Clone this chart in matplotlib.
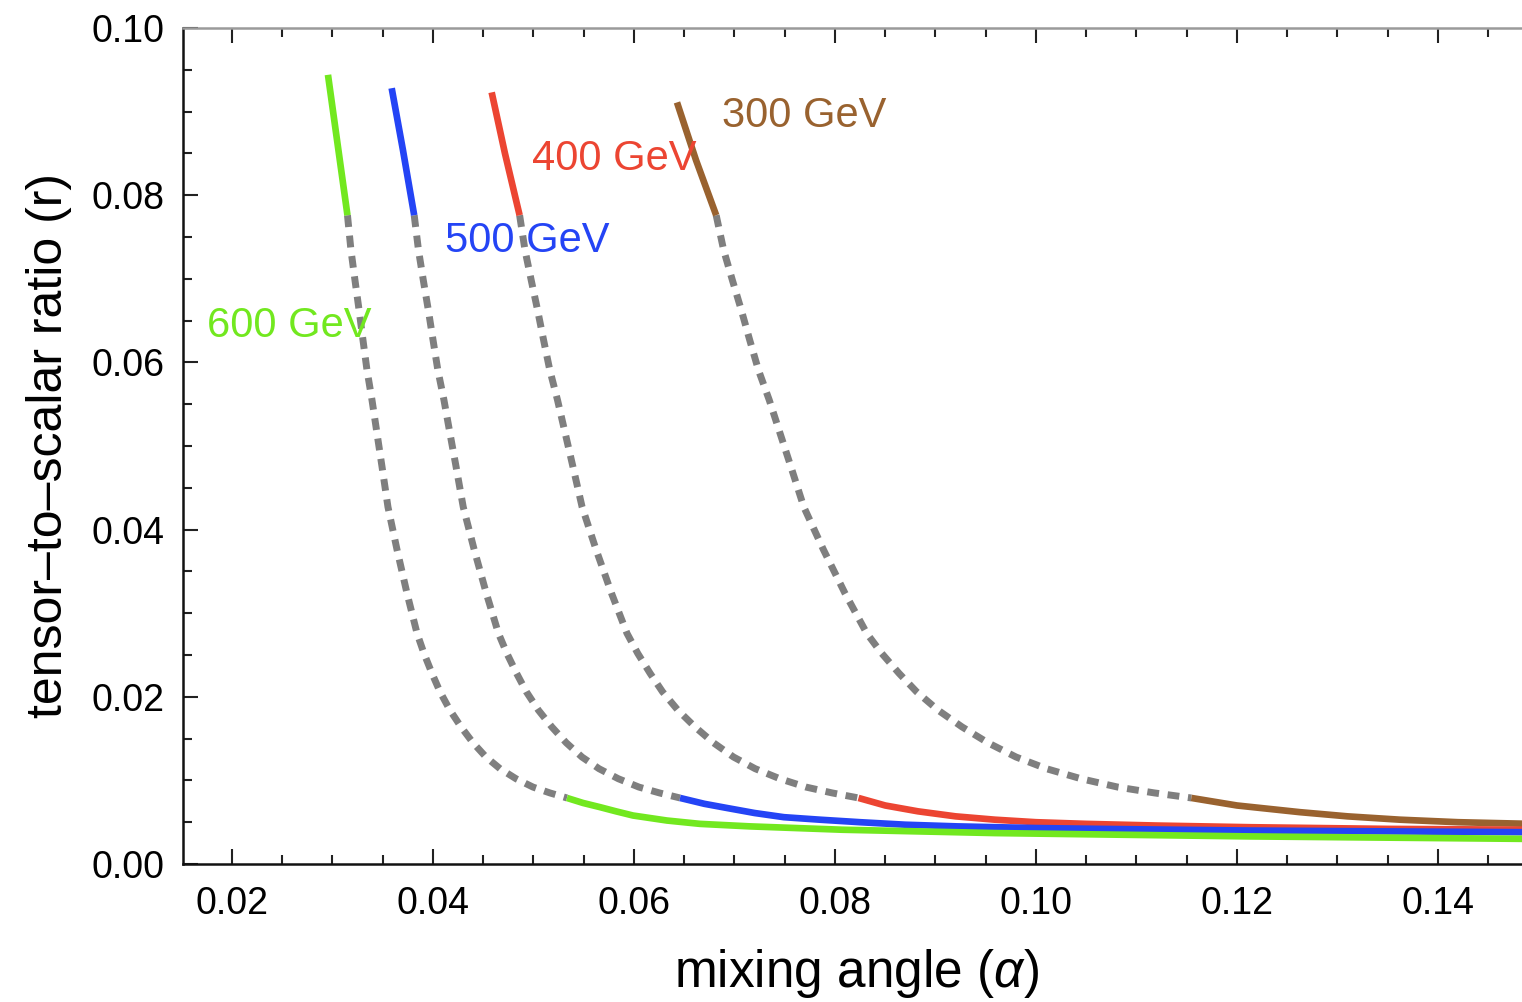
import matplotlib.pyplot as plt
from matplotlib.ticker import FixedLocator

plt.rcParams['font.family'] = ['Liberation Sans', 'DejaVu Sans']
plt.rcParams['mathtext.fontset'] = 'custom'
plt.rcParams['mathtext.rm'] = 'Liberation Sans'
plt.rcParams['mathtext.it'] = 'Liberation Sans:italic'

# --- data (mixing angle alpha, tensor-to-scalar ratio r)
masses = ["600 GeV", "500 GeV", "400 GeV", "300 GeV"]
colors = ["#72e81f", "#2444f5", "#ec4532", "#99622f"]

# r values along the dotted (excluded) stretch, shared by all four curves
r_mid = [0.0776, 0.0734, 0.0698, 0.0663, 0.0627, 0.0591, 0.0555, 0.0515, 0.0475,
         0.0427, 0.0376, 0.0324, 0.0276, 0.0252, 0.0228, 0.0206, 0.0184, 0.0164,
         0.0145, 0.0128, 0.0114, 0.0102, 0.0092, 0.0085, 0.0079]

# 600 GeV
a600_up = [0.02955, 0.03045, 0.03149]
r600_up = [0.0944, 0.0866, 0.0776]
a600_mid = [0.03149, 0.03184, 0.03224, 0.03264, 0.03303, 0.03343, 0.03393, 0.03443,
            0.03493, 0.03552, 0.03642, 0.03741, 0.03841, 0.03910, 0.03990, 0.04070,
            0.04169, 0.04279, 0.04398, 0.04527, 0.04667, 0.04826, 0.04995, 0.05164,
            0.05333]
a600_low = [0.05333, 0.05493, 0.05662, 0.05821, 0.05990, 0.06159, 0.06328, 0.06657,
            0.07154, 0.08070, 0.09592, 0.12129, 0.14916]
r600_low = [0.0079, 0.0073, 0.0068, 0.0063, 0.0058, 0.0055, 0.0052, 0.0048,
            0.0045, 0.0041, 0.0037, 0.0033, 0.0030]

# 500 GeV
a500_up = [0.03589, 0.03701, 0.03813]
r500_up = [0.0928, 0.0854, 0.0776]
a500_mid = [0.03813, 0.03856, 0.03904, 0.03953, 0.04000, 0.04048, 0.04109, 0.04169,
            0.04230, 0.04301, 0.04410, 0.04530, 0.04651, 0.04735, 0.04832, 0.04929,
            0.05049, 0.05182, 0.05326, 0.05482, 0.05652, 0.05844, 0.06049, 0.06254,
            0.06458]
a500_low = [0.06458, 0.06700, 0.06925, 0.07200, 0.07492, 0.07850, 0.08249, 0.08700,
            0.09214, 0.10000, 0.10637, 0.12129, 0.13500, 0.14916]
r500_low = [0.0079, 0.0072, 0.0067, 0.0061, 0.0056, 0.0053, 0.0050, 0.0047,
            0.0045, 0.0043, 0.0042, 0.0040, 0.0039, 0.0038]

# 400 GeV
a400_up = [0.04584, 0.04716, 0.04862]
r400_up = [0.0923, 0.0850, 0.0776]
a400_mid = [0.04862, 0.04916, 0.04978, 0.05040, 0.05100, 0.05162, 0.05239, 0.05316,
            0.05393, 0.05484, 0.05623, 0.05776, 0.05930, 0.06037, 0.06161, 0.06284,
            0.06437, 0.06607, 0.06791, 0.06990, 0.07206, 0.07451, 0.07712, 0.07973,
            0.08234]
a400_low = [0.08234, 0.08500, 0.08826, 0.09200, 0.09592, 0.10000, 0.10500, 0.11200,
            0.12129, 0.13500, 0.14916]
r400_low = [0.0079, 0.0070, 0.0063, 0.0057, 0.0053, 0.0050, 0.0048, 0.0046,
            0.0044, 0.0042, 0.0041]

# 300 GeV
a300_up = [0.06428, 0.06617, 0.06818]
r300_up = [0.0911, 0.0842, 0.0776]
a300_mid = [0.06818, 0.06893, 0.06980, 0.07067, 0.07151, 0.07238, 0.07346, 0.07454,
            0.07562, 0.07690, 0.07885, 0.08099, 0.08316, 0.08465, 0.08638, 0.08812,
            0.09026, 0.09264, 0.09522, 0.09801, 0.10104, 0.10448, 0.10814, 0.11180,
            0.11546]
a300_low = [0.11546, 0.12000, 0.12627, 0.13100, 0.13622, 0.14200, 0.14916]
r300_low = [0.0079, 0.0070, 0.0062, 0.0057, 0.0053, 0.0050, 0.0048]

# label anchor positions (left, baseline) in data units
label_a = [0.01748, 0.04119, 0.04982, 0.06873]
label_r = [0.0630, 0.0732, 0.0830, 0.0881]

curves = [
    (a600_up, r600_up, a600_mid, a600_low, r600_low),
    (a500_up, r500_up, a500_mid, a500_low, r500_low),
    (a400_up, r400_up, a400_mid, a400_low, r400_low),
    (a300_up, r300_up, a300_mid, a300_low, r300_low),
]

fig = plt.figure(figsize=(15.22, 10.02), dpi=100)
ax = fig.add_axes([183 / 1522, 138 / 1002, (1530 - 183) / 1522, 836 / 1002])

# draw heaviest mass first so 600 GeV sits on top
for i in reversed(range(len(masses))):
    au, ru, am, al, rl = curves[i]
    ax.plot(am, r_mid, color="#7f7f7f", lw=5.0, ls=(0, (1.7, 1.25)),
            dash_capstyle='butt', solid_joinstyle='round', zorder=2)
    ax.plot(au, ru, color=colors[i], lw=4.8, solid_capstyle='butt', zorder=3)
    ax.plot(al, rl, color=colors[i], lw=4.8, solid_capstyle='butt',
            solid_joinstyle='round', zorder=3 + (4 - i) * 0.1)
    ax.text(label_a[i], label_r[i], masses[i], color=colors[i], fontsize=30,
            ha='left', va='baseline', zorder=5)

ax.set_xlim(0.015124, 0.14916)
ax.set_ylim(0, 0.10)

xmaj = [0.02, 0.04, 0.06, 0.08, 0.10, 0.12, 0.14]
xmin = [0.015 + 0.005 * k for k in range(28) if round((0.015 + 0.005 * k) * 1000) % 20 != 0]
ymaj = [0.0, 0.02, 0.04, 0.06, 0.08, 0.10]
ymin = [0.005 * k for k in range(21) if k % 4 != 0]
ax.xaxis.set_major_locator(FixedLocator(xmaj))
ax.xaxis.set_minor_locator(FixedLocator(xmin))
ax.yaxis.set_major_locator(FixedLocator(ymaj))
ax.yaxis.set_minor_locator(FixedLocator(ymin))
ax.set_xticklabels([f"{v:.2f}" for v in xmaj])
ax.set_yticklabels([f"{v:.2f}" for v in ymaj])

ax.tick_params(which='both', direction='in', top=True, right=False,
               width=1.5, color='#222222', labelsize=27)
ax.tick_params(which='major', length=11)
ax.tick_params(which='minor', length=6.5)
ax.tick_params(axis='x', which='major', pad=16)
ax.tick_params(axis='y', which='major', pad=13)

# some ticks come out faint in the original rendering
faint_x = [0.02, 0.045, 0.05, 0.125, 0.13]
faint_y = [0.085, 0.07, 0.05, 0.035, 0.02]
for axis, faint in ((ax.xaxis, faint_x), (ax.yaxis, faint_y)):
    for t in axis.get_major_ticks() + axis.get_minor_ticks():
        if any(abs(t.get_loc() - f) < 1e-6 for f in faint):
            t.tick1line.set_color('#c8c8c8')
            t.tick2line.set_color('#c8c8c8')

ax.spines['right'].set_visible(False)
for side in ('left', 'bottom'):
    ax.spines[side].set_linewidth(1.8)
    ax.spines[side].set_color('#111111')
ax.spines['top'].set_color('#9a9a9a')
ax.spines['top'].set_linewidth(1.8)

ax.set_xlabel(r"mixing angle ($\alpha$)", fontsize=37, labelpad=18)
ax.set_ylabel("tensor\u2013to\u2013scalar ratio (r)", fontsize=36, labelpad=14)

fig.savefig("out.png", dpi=100)
